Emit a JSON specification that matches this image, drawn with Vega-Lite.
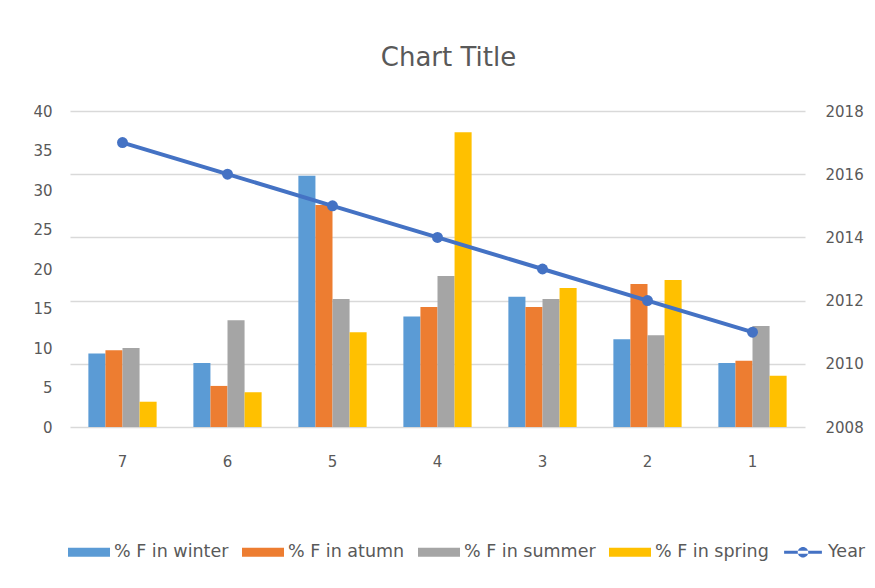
{
  "$schema": "https://vega.github.io/schema/vega-lite/v6.json",
  "width": 735,
  "height": 316,
  "autosize": {"type": "none"},
  "padding": {"left": 70, "top": 111, "right": 70, "bottom": 161},
  "background": "white",
  "config": {
    "view": {"stroke": null},
    "font": "DejaVu Sans",
    "axis": {"labelColor": "#595959", "labelFontSize": 15, "labelFont": "DejaVu Sans"}
  },
  "title": {
    "text": "Chart Title",
    "fontSize": 26,
    "fontWeight": "normal",
    "color": "#595959",
    "font": "DejaVu Sans",
    "anchor": "middle",
    "dx": 11,
    "offset": 33
  },
  "datasets": {
    "bars": [
      {"cat": "7", "series": "% F in winter", "value": 9.3},
      {"cat": "7", "series": "% F in atumn", "value": 9.7},
      {"cat": "7", "series": "% F in summer", "value": 10},
      {"cat": "7", "series": "% F in spring", "value": 3.2},
      {"cat": "6", "series": "% F in winter", "value": 8.1},
      {"cat": "6", "series": "% F in atumn", "value": 5.2},
      {"cat": "6", "series": "% F in summer", "value": 13.5},
      {"cat": "6", "series": "% F in spring", "value": 4.4},
      {"cat": "5", "series": "% F in winter", "value": 31.8},
      {"cat": "5", "series": "% F in atumn", "value": 28.1},
      {"cat": "5", "series": "% F in summer", "value": 16.2},
      {"cat": "5", "series": "% F in spring", "value": 12},
      {"cat": "4", "series": "% F in winter", "value": 14},
      {"cat": "4", "series": "% F in atumn", "value": 15.2},
      {"cat": "4", "series": "% F in summer", "value": 19.1},
      {"cat": "4", "series": "% F in spring", "value": 37.3},
      {"cat": "3", "series": "% F in winter", "value": 16.5},
      {"cat": "3", "series": "% F in atumn", "value": 15.2},
      {"cat": "3", "series": "% F in summer", "value": 16.2},
      {"cat": "3", "series": "% F in spring", "value": 17.6},
      {"cat": "2", "series": "% F in winter", "value": 11.1},
      {"cat": "2", "series": "% F in atumn", "value": 18.1},
      {"cat": "2", "series": "% F in summer", "value": 11.6},
      {"cat": "2", "series": "% F in spring", "value": 18.6},
      {"cat": "1", "series": "% F in winter", "value": 8.1},
      {"cat": "1", "series": "% F in atumn", "value": 8.4},
      {"cat": "1", "series": "% F in summer", "value": 12.8},
      {"cat": "1", "series": "% F in spring", "value": 6.5}
    ],
    "years": [
      {"cat": "7", "Year": 2017},
      {"cat": "6", "Year": 2016},
      {"cat": "5", "Year": 2015},
      {"cat": "4", "Year": 2014},
      {"cat": "3", "Year": 2013},
      {"cat": "2", "Year": 2012},
      {"cat": "1", "Year": 2011}
    ]
  },
  "layer": [
    {
      "data": {"name": "bars"},
      "mark": {"type": "bar"},
      "encoding": {
        "x": {
          "field": "cat", "type": "nominal",
          "sort": ["7", "6", "5", "4", "3", "2", "1"],
          "scale": {"paddingInner": 0.35, "paddingOuter": 0.175},
          "axis": {"title": null, "labelAngle": 0, "ticks": false, "domain": false, "labelPadding": 27}
        },
        "xOffset": {
          "field": "series", "type": "nominal",
          "sort": ["% F in winter", "% F in atumn", "% F in summer", "% F in spring"]
        },
        "y": {
          "field": "value", "type": "quantitative",
          "scale": {"domain": [0, 40], "nice": false},
          "axis": {"title": null, "values": [0, 5, 10, 15, 20, 25, 30, 35, 40], "grid": false, "domain": false, "ticks": false, "labelPadding": 18, "orient": "left"}
        },
        "color": {
          "field": "series", "type": "nominal",
          "scale": {
            "domain": ["% F in winter", "% F in atumn", "% F in summer", "% F in spring", "Year"],
            "range": ["#5B9BD5", "#ED7D31", "#A5A5A5", "#FFC000", "#4472C4"]
          },
          "legend": {
            "title": null,
            "orient": "none",
            "legendX": -2,
            "legendY": 420,
            "direction": "horizontal",
            "columns": 5,
            "columnPadding": 13,
            "labelFontSize": 17.5,
            "labelColor": "#595959",
            "labelFont": "DejaVu Sans",
            "labelOffset": 4,
            "labelLimit": 300,
            "symbolSize": 1764,
            "symbolStrokeWidth": 0,
            "symbolType": "M-1,-0.21H1V0.21H-1Z",
            "encode": {
              "symbols": {
                "update": {
                  "shape": {"signal": "datum.value === 'Year' ? 'M-0.9,-0.07H0.9V0.07H-0.9Z M-0.25,0A0.25,0.25 0 1,0 0.25,0A0.25,0.25 0 1,0 -0.25,0Z' : 'M-1,-0.21H1V0.21H-1Z'"},
                  "strokeWidth": {"value": 0}
                }
              }
            }
          }
        }
      }
    },
    {
      "data": {"name": "years"},
      "mark": {"type": "line", "strokeWidth": 4, "color": "#4472C4", "point": {"size": 120, "filled": true, "color": "#4472C4"}},
      "encoding": {
        "x": {"field": "cat", "type": "nominal", "sort": ["7", "6", "5", "4", "3", "2", "1"]},
        "y": {
          "field": "Year", "type": "quantitative",
          "scale": {"domain": [2008, 2018], "nice": false, "zero": false},
          "axis": {"title": null, "orient": "right", "values": [2008, 2010, 2012, 2014, 2016, 2018], "format": "d", "grid": true, "gridColor": "#D9D9D9", "gridWidth": 1.5, "domain": false, "ticks": false, "labelPadding": 20}
        },
        "color": {"datum": "Year"}
      }
    }
  ],
  "resolve": {"scale": {"y": "independent"}}
}
